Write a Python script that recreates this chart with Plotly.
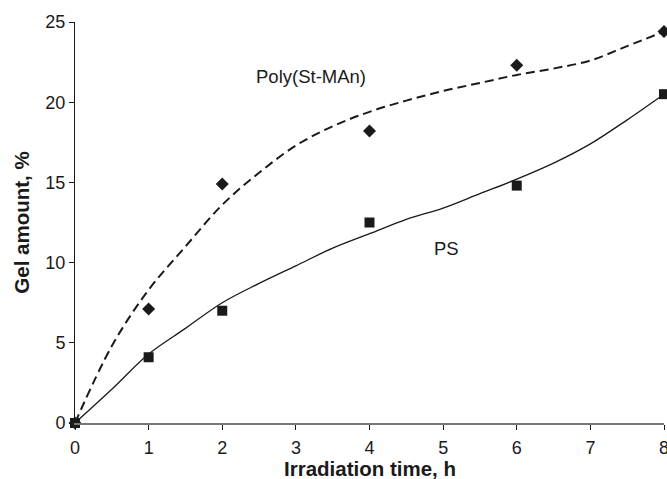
import plotly.graph_objects as go

# Measured data points
time_h = [0, 1, 2, 4, 6, 8]
ps_gel = [0, 4.1, 7.0, 12.5, 14.8, 20.5]
poly_gel = [0, 7.1, 14.9, 18.2, 22.3, 24.4]

# Smoothed trend curves
curve_x = [0, 0.5, 1, 1.5, 2, 2.5, 3, 3.5, 4, 4.5, 5, 5.5, 6, 6.5, 7, 7.5, 8]
poly_curve = [0, 4.8, 8.3, 11.0, 13.6, 15.6, 17.3, 18.5, 19.4, 20.1, 20.7, 21.2, 21.7, 22.1, 22.6, 23.5, 24.4]
ps_curve = [0, 2.1, 4.3, 5.9, 7.5, 8.7, 9.8, 10.9, 11.8, 12.7, 13.4, 14.3, 15.2, 16.2, 17.4, 18.9, 20.5]

x_ticks = [0, 1, 2, 3, 4, 5, 6, 7, 8]
y_ticks = [0, 5, 10, 15, 20, 25]

FONT = "Liberation Sans, Arial, sans-serif"
INK = "#1a1a1a"

fig = go.Figure()
fig.add_trace(go.Scatter(x=curve_x, y=poly_curve, mode="lines", line_shape="spline",
                         line=dict(color=INK, width=2, dash="9px,5px"), cliponaxis=False,
                         showlegend=False, hoverinfo="skip"))
fig.add_trace(go.Scatter(x=curve_x, y=ps_curve, mode="lines", line_shape="spline",
                         line=dict(color=INK, width=1.3), cliponaxis=False,
                         showlegend=False, hoverinfo="skip"))
fig.add_trace(go.Scatter(x=time_h, y=poly_gel, mode="markers", cliponaxis=False,
                         marker=dict(symbol="diamond", size=10, color=INK),
                         showlegend=False))
fig.add_trace(go.Scatter(x=time_h, y=ps_gel, mode="markers", cliponaxis=False,
                         marker=dict(symbol="square", size=10, color=INK),
                         showlegend=False))

fig.add_annotation(x=3.2, y=21.6, text="Poly(St-MAn)", showarrow=False,
                   font=dict(family=FONT, size=18.5, color=INK))
fig.add_annotation(x=5.05, y=10.85, text="PS", showarrow=False,
                   font=dict(family=FONT, size=18.5, color=INK))
# x-axis title
fig.add_annotation(x=0.5, xref="paper", y=0, yref="paper", yanchor="middle",
                   yshift=-45, text="<b>Irradiation time, h</b>", showarrow=False,
                   font=dict(family=FONT, size=20.5, color=INK))

fig.update_layout(
    width=667, height=479,
    margin=dict(l=75, r=3, t=22, b=56),
    paper_bgcolor="white", plot_bgcolor="white",
    font=dict(family=FONT, size=18, color=INK),
    xaxis=dict(range=[0, 8], tickvals=x_ticks, ticks="outside", ticklen=5,
               tickcolor=INK, showline=True, linecolor="#777777", linewidth=2,
               showgrid=False, zeroline=False, ticklabeloverflow="allow",
               ticklabelstandoff=2, automargin=False),
    yaxis=dict(range=[0, 25], tickvals=y_ticks, ticks="outside", ticklen=5,
               tickcolor=INK, showline=True, linecolor=INK, linewidth=1,
               showgrid=False, zeroline=False, automargin=False,
               title=dict(text="<b>Gel amount, %</b>", font=dict(size=20.5), standoff=10)),
)

fig.write_html("out.html")
